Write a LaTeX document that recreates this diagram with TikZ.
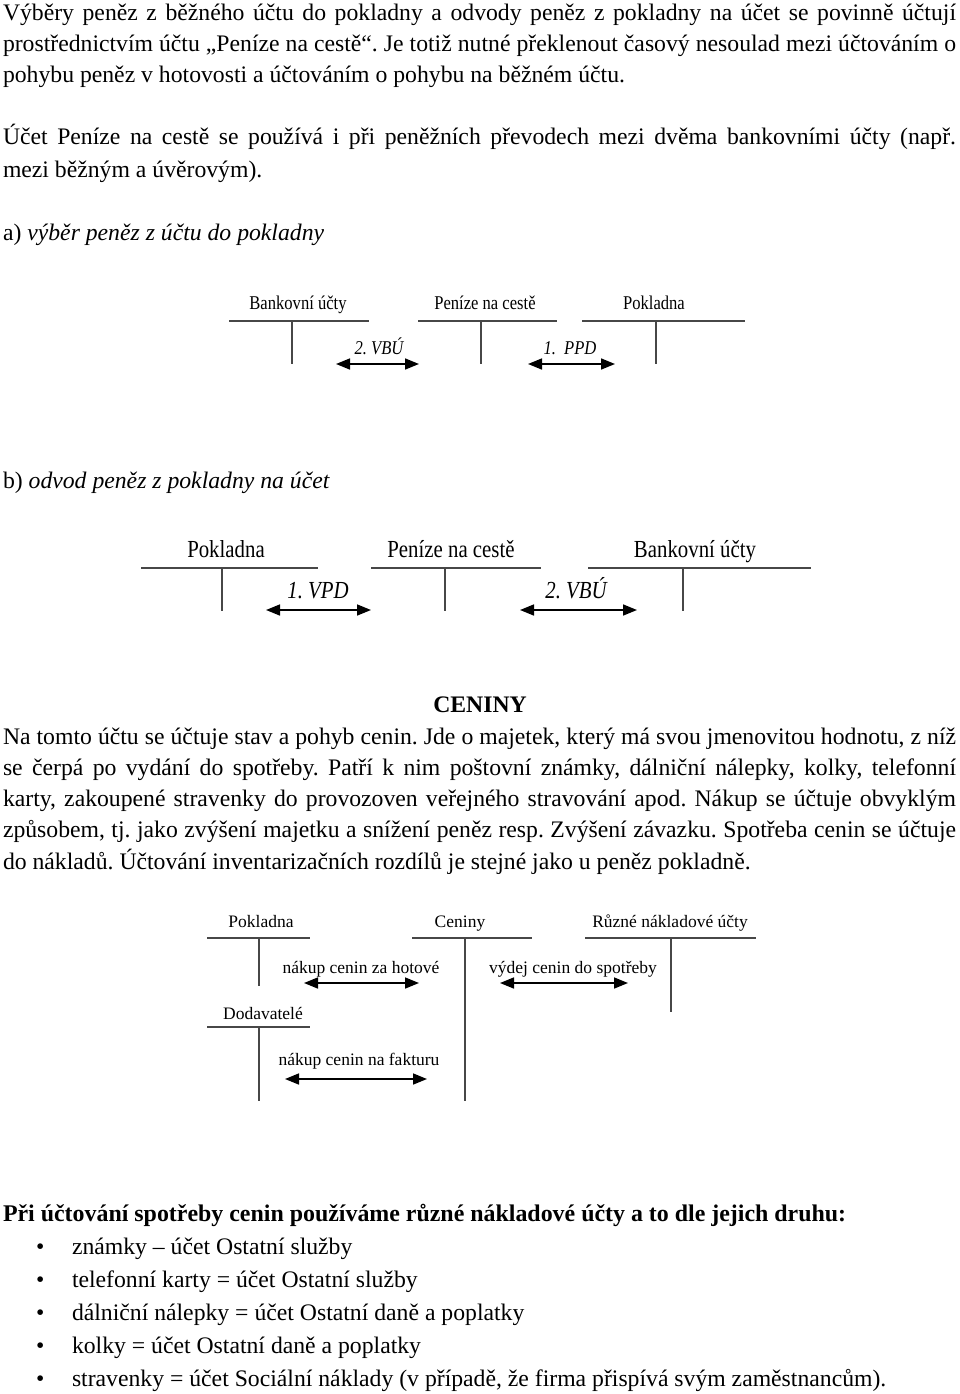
\documentclass[tikz,border=0pt]{standalone}
\usepackage{fontspec}
\usepackage{graphicx}
\setmainfont{Liberation Serif}
\newfontfamily\condfont[FakeStretch=0.85]{Liberation Serif}
\usetikzlibrary{arrows.meta}
\frenchspacing
\newcommand{\jline}[1]{\makebox[953pt][s]{#1}}
\tikzset{
  body/.style={anchor=base west, inner sep=0pt, outer sep=0pt, font=\fontsize{23.7}{28}\selectfont},
  lbla/.style={anchor=base, inner sep=0pt, font=\condfont\fontsize{19.5}{22}\selectfont},
  lblb/.style={anchor=base, inner sep=0pt, font=\condfont\fontsize{24.5}{28}\selectfont},
  lblc/.style={anchor=base, inner sep=0pt, font=\fontsize{17.5}{20}\selectfont},
  tline/.style={draw=black!72, line width=1.4pt},
  dbl/.style={line width=1.6pt, {Triangle[length=14pt,width=11pt]}-{Triangle[length=14pt,width=11pt]}},
}
\begin{document}
\begin{tikzpicture}[x=1pt,y=-1pt]
\useasboundingbox[fill=white] (0,0) rectangle (960,1394);

% ---------- intro text ----------
\node[body] (t1) at (3,21) {\jline{Výběry peněz z běžného účtu do pokladny a odvody peněz z pokladny na účet se povinně účtují}};
\node[body] (t2) at (3,52) {\jline{prostřednictvím účtu „Peníze na cestě“. Je totiž nutné překlenout časový nesoulad mezi účtováním o}};
\node[body] (t3) at (3,83) {pohybu peněz v hotovosti a účtováním o pohybu na běžném účtu.};
\node[body] (t4) at (3,145) {\jline{Účet Peníze na cestě se používá i při peněžních převodech mezi dvěma bankovními účty (např.}};
\node[body] (t5) at (3,177) {mezi běžným a úvěrovým).};
\node[body] (t6) at (3,240) {a) \textit{výběr peněz z účtu do pokladny}};

% ---------- diagram a ----------
\node[lbla] (aBank) at (298,309) {Bankovní účty};
\node[lbla] (aPen) at (485,309) {Peníze na cestě};
\node[lbla] (aPok) at (654,309) {Pokladna};
\coordinate (a1l) at (229,321); \coordinate (a1r) at (369,321);
\coordinate (a2l) at (418,321); \coordinate (a2r) at (557,321);
\coordinate (a3l) at (582,321); \coordinate (a3r) at (745,321);
\coordinate (a1t) at (292,321); \coordinate (a1b) at (292,364);
\coordinate (a2t) at (481,321); \coordinate (a2b) at (481,364);
\coordinate (a3t) at (656,321); \coordinate (a3b) at (656,364);
\draw[tline] (a1l) -- (a1r); \draw[tline] (a1t) -- (a1b);
\draw[tline] (a2l) -- (a2r); \draw[tline] (a2t) -- (a2b);
\draw[tline] (a3l) -- (a3r); \draw[tline] (a3t) -- (a3b);
\node[lbla] (aVBU) at (379,354) {\itshape 2. VBÚ};
\node[lbla] (aPPD) at (570,354) {\itshape 1.\ \ PPD};
\coordinate (aA1l) at (336,364); \coordinate (aA1r) at (419,364);
\coordinate (aA2l) at (528,364); \coordinate (aA2r) at (615,364);
\draw[dbl] (aA1l) -- (aA1r);
\draw[dbl] (aA2l) -- (aA2r);

\node[body] (t7) at (3,488) {b) \textit{odvod peněz z pokladny na účet}};

% ---------- diagram b ----------
\node[lblb] (bPok) at (226,557) {Pokladna};
\node[lblb] (bPen) at (451,557) {Peníze na cestě};
\node[lblb] (bBank) at (695,557) {Bankovní účty};
\coordinate (b1l) at (141,568); \coordinate (b1r) at (318,568);
\coordinate (b2l) at (371,568); \coordinate (b2r) at (541,568);
\coordinate (b3l) at (588,568); \coordinate (b3r) at (811,568);
\coordinate (b1t) at (222,568); \coordinate (b1b) at (222,611);
\coordinate (b2t) at (445,568); \coordinate (b2b) at (445,611);
\coordinate (b3t) at (683,568); \coordinate (b3b) at (683,611);
\draw[tline] (b1l) -- (b1r); \draw[tline] (b1t) -- (b1b);
\draw[tline] (b2l) -- (b2r); \draw[tline] (b2t) -- (b2b);
\draw[tline] (b3l) -- (b3r); \draw[tline] (b3t) -- (b3b);
\node[lblb] (bVPD) at (318,598) {\itshape 1. VPD};
\node[lblb] (bVBU) at (576,598) {\itshape 2. VBÚ};
\coordinate (bA1l) at (266,610); \coordinate (bA1r) at (371,610);
\coordinate (bA2l) at (520,610); \coordinate (bA2r) at (637,610);
\draw[dbl] (bA1l) -- (bA1r);
\draw[dbl] (bA2l) -- (bA2r);

% ---------- CENINY text ----------
\node[anchor=base, inner sep=0pt, font=\fontsize{23.7}{28}\selectfont\bfseries] (hCen) at (480,712) {CENINY};
\node[body] (p1) at (3,744) {\jline{Na tomto účtu se účtuje stav a pohyb cenin. Jde o majetek, který má svou jmenovitou hodnotu, z níž}};
\node[body] (p2) at (3,775) {\jline{se čerpá po vydání do spotřeby. Patří k nim poštovní známky, dálniční nálepky, kolky, telefonní}};
\node[body] (p3) at (3,806) {\jline{karty, zakoupené stravenky do provozoven veřejného stravování apod. Nákup se účtuje obvyklým}};
\node[body] (p4) at (3,837) {\jline{způsobem, tj. jako zvýšení majetku a snížení peněz resp. Zvýšení závazku. Spotřeba cenin se účtuje}};
\node[body] (p5) at (3,869) {do nákladů. Účtování inventarizačních rozdílů je stejné jako u peněz pokladně.};

% ---------- diagram c ----------
\node[lblc] (cPok) at (261,927) {Pokladna};
\node[lblc] (cCen) at (460,927) {Ceniny};
\node[lblc] (cRuz) at (670,927) {Různé nákladové účty};
\coordinate (c1l) at (207,938); \coordinate (c1r) at (310,938);
\coordinate (c2l) at (412,938); \coordinate (c2r) at (532,938);
\coordinate (c3l) at (585,938); \coordinate (c3r) at (756,938);
\coordinate (c1t) at (259,938); \coordinate (c1b) at (259,986);
\coordinate (c2t) at (465,938); \coordinate (c2b) at (465,1101);
\coordinate (c3t) at (671,938); \coordinate (c3b) at (671,1012);
\draw[tline] (c1l) -- (c1r); \draw[tline] (c1t) -- (c1b);
\draw[tline] (c2l) -- (c2r); \draw[tline] (c2t) -- (c2b);
\draw[tline] (c3l) -- (c3r); \draw[tline] (c3t) -- (c3b);
\node[lblc] (cHot) at (361,973) {nákup cenin za hotové};
\node[lblc] (cVyd) at (573,973) {výdej cenin do spotřeby};
\coordinate (cA1l) at (304,983); \coordinate (cA1r) at (419,983);
\coordinate (cA2l) at (500,983); \coordinate (cA2r) at (628,983);
\draw[dbl] (cA1l) -- (cA1r);
\draw[dbl] (cA2l) -- (cA2r);
\node[lblc] (cDod) at (263,1019) {Dodavatelé};
\coordinate (c4l) at (207,1027); \coordinate (c4r) at (310,1027);
\coordinate (c4t) at (259,1027); \coordinate (c4b) at (259,1101);
\draw[tline] (c4l) -- (c4r); \draw[tline] (c4t) -- (c4b);
\node[lblc] (cFak) at (359,1065) {nákup cenin na fakturu};
\coordinate (cA3l) at (285,1079); \coordinate (cA3r) at (427,1079);
\draw[dbl] (cA3l) -- (cA3r);

% ---------- bottom list ----------
\node[body, font=\fontsize{23.9}{28}\selectfont\bfseries] (bh) at (3,1221) {Při účtování spotřeby cenin používáme různé nákladové účty a to dle jejich druhu:};
\foreach \yy/\nm/\txt in {1254/l1/{známky – účet Ostatní služby},
  1287/l2/{telefonní karty = účet Ostatní služby},
  1320/l3/{dálniční nálepky = účet Ostatní daně a poplatky},
  1353/l4/{kolky = účet Ostatní daně a poplatky},
  1386/l5/{stravenky = účet Sociální náklady (v případě, že firma přispívá svým zaměstnancům).}}{
  \node[body] (b\nm) at (36,\yy) {\textbullet};
  \node[body] (\nm) at (72,\yy) {\txt};
}
\end{tikzpicture}
\end{document}
